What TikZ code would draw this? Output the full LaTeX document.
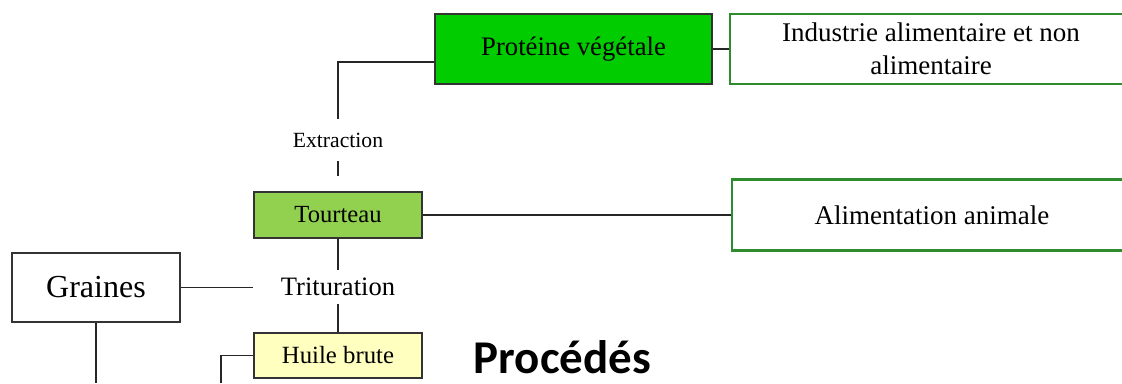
\documentclass[tikz,border=0pt]{standalone}
\usepackage{fontspec}
\setmainfont{Liberation Serif}
\newfontfamily\titlefont{Carlito}
\definecolor{protgreen}{RGB}{0,204,0}
\definecolor{cakegreen}{RGB}{146,208,80}
\definecolor{oilyellow}{RGB}{255,255,192}
\definecolor{usegreen}{RGB}{46,140,46}
\tikzset{
    procbox/.style={rectangle,draw=black!80,line width=0.9pt,inner sep=0pt,align=center},
    usebox/.style={rectangle,draw=usegreen,line width=1.6pt,fill=white,inner sep=0pt,align=center},
    steplabel/.style={rectangle,inner sep=0pt},
    link/.style={-,line width=0.9pt,draw=black!85}
}

\begin{document}
\begin{tikzpicture}[x=0.025cm,y=-0.025cm]
    \useasboundingbox (0,0) rectangle (1122,383);
    \clip (0,0) rectangle (1122,383);

    \node[procbox,fill=protgreen,minimum width=6.925cm,minimum height=1.75cm,font=\fontsize{19}{23}\selectfont] (proteine) at (573.5,49) {Prot\'eine v\'eg\'etale};
    \node[usebox,minimum width=10.05cm,minimum height=1.75cm,font=\fontsize{19.2}{23.5}\selectfont] (industrie) at (931,49) {Industrie alimentaire et non\\alimentaire};

    \node[steplabel,minimum height=1.05cm,font=\fontsize{15.4}{18}\selectfont] (extraction) at (338,140) {Extraction};

    \node[procbox,fill=cakegreen,minimum width=4.2cm,minimum height=1.15cm,font=\fontsize{17.5}{21}\selectfont] (tourteau) at (338,215) {Tourteau};
    \node[usebox,minimum width=10cm,minimum height=1.775cm,font=\fontsize{19.2}{23}\selectfont] (alim) at (932,215) {Alimentation animale};

    \node[procbox,minimum width=4.2cm,minimum height=1.725cm,font=\fontsize{22.8}{27}\selectfont] (graines) at (96,287.5) {Graines};
    \node[steplabel,minimum width=4.25cm,minimum height=0.85cm,font=\fontsize{18.9}{22}\selectfont] (trituration) at (338,287) {Trituration};

    \node[procbox,fill=oilyellow,minimum width=4.2cm,minimum height=1.125cm,font=\fontsize{17.6}{21}\selectfont] (huile) at (338,355.5) {Huile brute};

    \node[anchor=base,inner sep=0pt,font=\titlefont\bfseries\fontsize{33.4}{40}\selectfont] (procedes) at (562.5,373) {Proc\'ed\'es};

    \coordinate (graines end) at (96,383);
    \coordinate (huile end) at (221,383);

    % links
    \draw[link] (proteine) -- (industrie);
    \draw[link] ([yshift=-0.325cm]proteine.west) -| (extraction.north);
    \draw[link,shorten >=0.375cm] (extraction.south) -- (tourteau.north);
    \draw[link] (tourteau) -- (alim);
    \draw[link] (tourteau.south) -- (trituration.north);
    \draw[link] (graines.east) -- (graines.east -| trituration.west);
    \draw[link] (trituration.south) -- (huile.north);
    \draw[link] (graines.south) -- (graines end);
    \draw[link] (huile.west) -| (huile end);
\end{tikzpicture}
\end{document}
